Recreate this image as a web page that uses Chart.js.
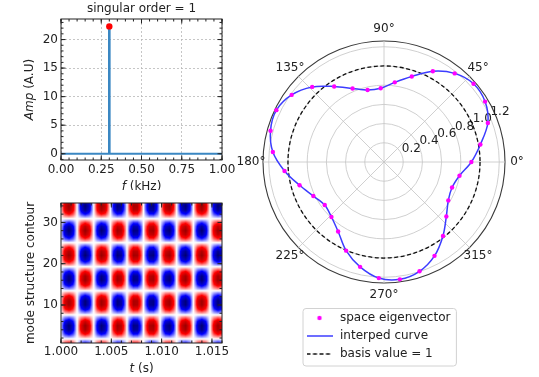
<!DOCTYPE html>
<html lang="en">
<head>
<meta charset="utf-8">
<title>Singular order 1</title>
<script src="https://cdn.jsdelivr.net/npm/chart.js@4.4.1/dist/chart.umd.min.js"></script>
<style>
  body { margin: 0; background: #fff; }
  #wrap { position: relative; width: 539px; height: 377px; overflow: hidden; }
  canvas { position: absolute; }
</style>
</head>
<body>
<div id="wrap">
  <canvas id="spec" width="240" height="190" style="left:0;top:0"></canvas>
  <canvas id="mode" width="240" height="187" style="left:0;top:190px"></canvas>
  <canvas id="polar" width="309" height="377" style="left:230px;top:0"></canvas>
</div>
<script>
// spectrum of the temporal vector (top left)
const specTitle = 'singular order = 1';
const peakFreq = [0.3];   // kHz
const peakAmp = [22.3];
const baseFreq = [0, 1];
const baseAmp = [0, 0];
const freqTicks = [0, 0.25, 0.5, 0.75, 1.0];
const ampTicks = [0, 5, 10, 15, 20];

// mode structure, time x channel (bottom left)
const modeTime = [1.0000, 1.0004, 1.0008, 1.0012, 1.0016, 1.0020, 1.0024, 1.0028, 1.0032, 1.0036,
  1.0040, 1.0044, 1.0048, 1.0052, 1.0056, 1.0060, 1.0064, 1.0068, 1.0072, 1.0076,
  1.0080, 1.0084, 1.0088, 1.0092, 1.0096, 1.0100, 1.0104, 1.0108, 1.0112, 1.0116,
  1.0120, 1.0124, 1.0128, 1.0132, 1.0136, 1.0140, 1.0144, 1.0148, 1.0152, 1.0156, 1.0160];
const timeProfile = [0.10, 0.76, 1.00, 0.69, 0.00, -0.69, -1.00, -0.76, -0.10, 0.62,
  0.99, 0.82, 0.19, -0.54, -0.97, -0.87, -0.29, 0.45, 0.94, 0.91,
  0.38, -0.36, -0.91, -0.95, -0.47, 0.27, 0.86, 0.98, 0.55, -0.18,
  -0.81, -0.99, -0.63, 0.08, 0.75, 1.00, 0.70, 0.02, -0.68, -1.00, -0.77];
const channels = [1, 2, 3, 4, 5, 6, 7, 8, 9, 10, 11, 12, 13, 14, 15, 16, 17, 18,
  19, 20, 21, 22, 23, 24, 25, 26, 27, 28, 29, 30, 31, 32, 33, 34, 35];
const spaceProfile = [0.42, -0.11, -0.61, -0.93, -0.99, -0.77, -0.32, 0.21, 0.68, 0.96,
  0.97, 0.70, 0.23, -0.30, -0.75, -0.98, -0.94, -0.63, -0.14, 0.39,
  0.81, 1.00, 0.90, 0.55, 0.04, -0.48, -0.86, -1.00, -0.85, -0.46,
  0.06, 0.56, 0.91, 0.99, 0.80];
const timeTicks = [1.000, 1.005, 1.010, 1.015];
const chanTicks = [10, 20, 30];

// space eigenvector (right), angles counter-clockwise from 0 deg
const eigAngles = [0, 10.29, 20.57, 30.86, 41.14, 51.43, 61.71, 72.0, 82.29, 92.57,
  102.86, 113.14, 123.43, 133.71, 144.0, 154.29, 164.57, 174.86, 185.14, 195.43,
  205.71, 216.0, 226.29, 236.57, 246.86, 257.14, 267.43, 277.71, 288.0, 298.29,
  308.57, 318.86, 329.14, 339.43, 349.71];
const eigRadius = [0.91, 1.02, 1.155, 1.226, 1.238, 1.18, 1.073, 0.936, 0.837, 0.768,
  0.769, 0.833, 0.942, 1.082, 1.189, 1.244, 1.226, 1.162, 1.04, 0.912,
  0.817, 0.763, 0.792, 0.867, 1.004, 1.12, 1.21, 1.233, 1.197, 1.11,
  0.985, 0.862, 0.78, 0.757, 0.799];
const basisValue = 1;
const rTicks = [0.2, 0.4, 0.6, 0.8, 1.0, 1.2];
const thetaTicks = [0, 45, 90, 135, 180, 225, 270, 315];

const FONT = '"DejaVu Sans"';
const INK = '#222';
const STEM_BLUE = '#3a87c2';
const CURVE_BLUE = '#3c3cff';

Chart.defaults.font.family = FONT;
Chart.defaults.font.size = 12;
Chart.defaults.color = INK;

// box round the plot area + inward ticks on all four sides
const frame = {
  id: 'frame',
  afterDraw(chart, args, opts) {
    const {ctx, chartArea: a, scales} = chart;
    const sx = scales.x, sy = scales.y;
    const minorVals = (s, step) => {
      const out = [];
      for (let v = Math.ceil(s.min / step - 1e-9) * step; v <= s.max + 1e-9; v += step) out.push(v);
      return out;
    };
    ctx.save();
    ctx.strokeStyle = INK;
    ctx.lineWidth = 1;
    const tick = (v, len, horiz) => {
      ctx.beginPath();
      if (horiz) {
        const p = sx.getPixelForValue(v);
        ctx.moveTo(p, a.bottom); ctx.lineTo(p, a.bottom - len);
        ctx.moveTo(p, a.top); ctx.lineTo(p, a.top + len);
      } else {
        const p = sy.getPixelForValue(v);
        ctx.moveTo(a.left, p); ctx.lineTo(a.left + len, p);
        ctx.moveTo(a.right, p); ctx.lineTo(a.right - len, p);
      }
      ctx.stroke();
    };
    minorVals(sx, opts.minorX).forEach(v => tick(v, 2.5, true));
    minorVals(sy, opts.minorY).forEach(v => tick(v, 2.5, false));
    sx.ticks.forEach(t => tick(t.value, 4.5, true));
    sy.ticks.forEach(t => tick(t.value, 4.5, false));
    ctx.strokeRect(a.left, a.top, a.right - a.left, a.bottom - a.top);
    ctx.restore();
  }
};

// axis titles with an italic symbol in front
function drawParts(ctx, parts, cx, cy, rot) {
  const fonts = parts.map(p => p[1] + ' 12px ' + FONT);
  let total = 0;
  const widths = parts.map((p, i) => { ctx.font = fonts[i]; const w = ctx.measureText(p[0]).width; total += w; return w; });
  ctx.save();
  ctx.translate(cx, cy);
  ctx.rotate(rot);
  ctx.textAlign = 'left';
  ctx.textBaseline = 'middle';
  ctx.fillStyle = INK;
  let x = -total / 2;
  parts.forEach((p, i) => { ctx.font = fonts[i]; ctx.fillText(p[0], x, 0); x += widths[i]; });
  ctx.restore();
}
const axisTitles = {
  id: 'axisTitles',
  afterDraw(chart, args, opts) {
    const {ctx, chartArea: a} = chart;
    drawParts(ctx, opts.x, (a.left + a.right) / 2, a.bottom + opts.xGap, 0);
    drawParts(ctx, opts.y, a.left - opts.yGap, (a.top + a.bottom) / 2, -Math.PI / 2);
  }
};

// seismic colour map, v in [-1, 1]
function seismic(v) {
  const u = Math.max(0, Math.min(1, (v + 1) / 2));
  const stops = [[0, 0, 0, 0.3], [0.25, 0, 0, 1], [0.5, 1, 1, 1], [0.75, 1, 0, 0], [1, 0.5, 0, 0]];
  let k = 0;
  while (k < stops.length - 2 && u > stops[k + 1][0]) k++;
  const s0 = stops[k], s1 = stops[k + 1];
  const f = (u - s0[0]) / (s1[0] - s0[0]);
  return [1, 2, 3].map(c => Math.round(255 * (s0[c] + f * (s1[c] - s0[c]))));
}

// linear lookup between the sampled values (gouraud-like shading)
function lookup(xs, ys, v) {
  const n = xs.length;
  if (v <= xs[0]) return ys[0];
  if (v >= xs[n - 1]) return ys[n - 1];
  let k = 0;
  while (xs[k + 1] < v) k++;
  const f = (v - xs[k]) / (xs[k + 1] - xs[k]);
  return ys[k] + f * (ys[k + 1] - ys[k]);
}

const heatmap = {
  id: 'heatmap',
  beforeDatasetsDraw(chart, args, opts) {
    const {ctx, chartArea: a, scales: {x, y}} = chart;
    const left = Math.round(a.left), top = Math.round(a.top);
    const w = Math.round(a.right) - left, h = Math.round(a.bottom) - top;
    const off = document.createElement('canvas');
    off.width = w; off.height = h;
    const octx = off.getContext('2d');
    const img = octx.createImageData(w, h);
    const colVals = [];
    for (let i = 0; i < w; i++) colVals.push(lookup(modeTime, timeProfile, x.getValueForPixel(left + i + 0.5)));
    for (let j = 0; j < h; j++) {
      const rv = lookup(channels, spaceProfile, y.getValueForPixel(top + j + 0.5));
      for (let i = 0; i < w; i++) {
        const c = seismic(colVals[i] * rv / opts.vmax);
        const p = (j * w + i) * 4;
        img.data[p] = c[0]; img.data[p + 1] = c[1]; img.data[p + 2] = c[2]; img.data[p + 3] = 255;
      }
    }
    octx.putImageData(img, 0, 0);
    ctx.drawImage(off, left, top);
  }
};

const setTicks = vals => s => { s.ticks = vals.map(v => ({value: v})); };

// ---------- spectrum ----------
const peakPts = peakFreq.map((f, i) => ({x: f, y: peakAmp[i]}));
new Chart(document.getElementById('spec'), {
  type: 'scatter',
  data: {
    datasets: [
      { type: 'scatter', data: peakPts, backgroundColor: '#ff0000', borderWidth: 0, pointRadius: 3.2, order: 0 },
      { type: 'bar', data: peakPts, backgroundColor: STEM_BLUE, barThickness: 2, order: 1 },
      { type: 'line', data: baseFreq.map((f, i) => ({x: f, y: baseAmp[i]})), borderColor: STEM_BLUE,
        borderWidth: 2, pointRadius: 0, order: 2 }
    ]
  },
  options: {
    responsive: false, animation: false, devicePixelRatio: 1,
    layout: { padding: { left: 0, right: 18, top: 0, bottom: 0 } },
    plugins: {
      legend: { display: false }, tooltip: { enabled: false },
      title: { display: true, fullSize: false, text: specTitle, color: INK, font: { size: 12, weight: 'normal' },
        padding: { top: 2, bottom: 2.6 } },
      axisTitles: { x: [['f', 'italic'], [' (kHz)', 'normal']], xGap: 27,
        y: [['Amp', 'italic'], [' (A.U)', 'normal']], yGap: 31 },
      frame: { minorX: 0.05, minorY: 1 }
    },
    scales: {
      x: {
        type: 'linear', min: 0, max: 1, offset: false,
        afterBuildTicks: setTicks(freqTicks),
        afterFit: s => { s.height = 30; },
        ticks: { callback: v => v.toFixed(2), padding: 3, maxRotation: 0, autoSkip: false },
        grid: { color: '#b8b8b8', lineWidth: 0.8, drawTicks: false, offset: false },
        border: { display: false, dash: [2, 2] }
      },
      y: {
        type: 'linear', min: -1.1, max: 23.6,
        afterBuildTicks: setTicks(ampTicks),
        afterFit: s => { s.width = 61; },
        ticks: { padding: 3 },
        grid: { color: '#b8b8b8', lineWidth: 0.8, drawTicks: false },
        border: { display: false, dash: [2, 2] }
      }
    }
  },
  plugins: [frame, axisTitles]
});

// ---------- mode structure ----------
new Chart(document.getElementById('mode'), {
  type: 'scatter',
  data: { datasets: [] },
  options: {
    responsive: false, animation: false, devicePixelRatio: 1,
    layout: { padding: { left: 0, right: 18, top: 13, bottom: 0 } },
    plugins: {
      legend: { display: false }, tooltip: { enabled: false },
      heatmap: { vmax: 1.1 },
      axisTitles: { x: [['t', 'italic'], [' (s)', 'normal']], xGap: 25.5,
        y: [['mode structure contour', 'normal']], yGap: 30 },
      frame: { minorX: 0.001, minorY: 2 }
    },
    scales: {
      x: {
        type: 'linear', min: 1.0, max: 1.016,
        afterBuildTicks: setTicks(timeTicks),
        afterFit: s => { s.height = 34; },
        ticks: { callback: v => v.toFixed(3), padding: 2, maxRotation: 0, autoSkip: false },
        grid: { display: false, drawTicks: false },
        border: { display: false }
      },
      y: {
        type: 'linear', min: 0.8, max: 34.7,
        afterBuildTicks: setTicks(chanTicks),
        afterFit: s => { s.width = 61; },
        ticks: { padding: 3 },
        grid: { display: false, drawTicks: false },
        border: { display: false }
      }
    }
  },
  plugins: [heatmap, frame, axisTitles]
});

// ---------- polar eigenvector ----------
// radar runs clockwise from its start angle, so walk the data backwards from 0 deg
const toRadar = arr => arr.map((_, i) => arr[(arr.length - i) % arr.length]);

function makeIcon(draw) {
  const c = document.createElement('canvas');
  c.width = 26; c.height = 10;
  draw(c.getContext('2d'));
  return c;
}
const legendIcons = [
  makeIcon(g => { g.fillStyle = '#ff00ff'; g.beginPath(); g.arc(13, 5, 2.2, 0, Math.PI * 2); g.fill(); }),
  makeIcon(g => { g.strokeStyle = CURVE_BLUE; g.lineWidth = 1.5; g.beginPath(); g.moveTo(0, 5); g.lineTo(26, 5); g.stroke(); }),
  makeIcon(g => { g.strokeStyle = '#111'; g.lineWidth = 1.3; g.setLineDash([4, 2.5]); g.beginPath(); g.moveTo(0, 5); g.lineTo(26, 5); g.stroke(); })
];

const polarDeco = {
  id: 'polarDeco',
  beforeDatasetsDraw(chart) {
    const s = chart.scales.r, ctx = chart.ctx;
    const cx = s.xCenter, cy = s.yCenter, R = s.drawingArea;
    ctx.save();
    ctx.strokeStyle = '#c4c4c4';
    ctx.lineWidth = 0.8;
    thetaTicks.forEach(deg => {
      const t = deg * Math.PI / 180;
      ctx.beginPath();
      ctx.moveTo(cx, cy);
      ctx.lineTo(cx + R * Math.cos(t), cy - R * Math.sin(t));
      ctx.stroke();
    });
    ctx.fillStyle = INK;
    ctx.font = '12px ' + FONT;
    ctx.textAlign = 'center';
    ctx.textBaseline = 'middle';
    thetaTicks.forEach(deg => {
      const t = deg * Math.PI / 180;
      ctx.fillText(deg + '°', cx + (R + 12) * Math.cos(t), cy - (R + 12) * Math.sin(t));
    });
    ctx.textAlign = 'left';
    ctx.textBaseline = 'bottom';
    const ra = 22.5 * Math.PI / 180;
    rTicks.forEach(v => {
      const d = s.getDistanceFromCenterForValue(v);
      ctx.fillText(v.toFixed(1), cx + d * Math.cos(ra), cy - d * Math.sin(ra));
    });
    ctx.restore();
  }
};

const legendBox = {
  id: 'legendBox',
  afterLayout(chart, args, opts) {
    const lg = chart.legend;
    const dx = opts.left - lg.left, dy = opts.top - lg.top;
    lg.left += dx; lg.right += dx; lg.top += dy; lg.bottom += dy;
  },
  beforeDraw(chart) {
    const hb = chart.legend.legendHitBoxes, ctx = chart.ctx;
    if (!hb || !hb.length) return;
    const l = Math.min(...hb.map(h => h.left)) - 2;
    const t = Math.min(...hb.map(h => h.top)) - 3.5;
    const r = Math.max(...hb.map(h => h.left + h.width)) + 6;
    const b = Math.max(...hb.map(h => h.top + h.height)) + 6;
    ctx.save();
    ctx.beginPath();
    ctx.roundRect(l, t, r - l, b - t, 3);
    ctx.fillStyle = 'rgba(255,255,255,0.85)';
    ctx.fill();
    ctx.strokeStyle = '#d2d2d2';
    ctx.lineWidth = 1;
    ctx.stroke();
    ctx.restore();
  }
};

new Chart(document.getElementById('polar'), {
  type: 'radar',
  data: {
    labels: toRadar(eigAngles).map(a => a + '°'),
    datasets: [
      { label: 'space eigenvector', data: toRadar(eigRadius), showLine: false, fill: false,
        pointRadius: 2.2, pointBackgroundColor: '#ff00ff', pointBorderWidth: 0, order: 0 },
      { label: 'interped curve', data: toRadar(eigRadius), borderColor: CURVE_BLUE, borderWidth: 1.5,
        pointRadius: 0, tension: 0.33, fill: false, order: 1 },
      { label: 'basis value = ' + basisValue, data: eigAngles.map(() => basisValue), borderColor: '#111',
        borderWidth: 1.3, borderDash: [4, 2.5], pointRadius: 0, tension: 0.33, fill: false, order: 2 }
    ]
  },
  options: {
    responsive: false, animation: false, devicePixelRatio: 1,
    layout: { padding: { left: 33, right: 34, top: 41, bottom: 30 } },
    scales: {
      r: {
        min: 0, max: 1.26, startAngle: 90,
        afterBuildTicks: setTicks([0, ...rTicks, 1.26]),
        angleLines: { display: false },
        pointLabels: { display: false },
        ticks: { display: false },
        grid: {
          circular: true,
          color: c => (c.tick && c.tick.value > 1.25 ? '#3a3a3a' : '#c4c4c4'),
          lineWidth: c => (c.tick && c.tick.value > 1.25 ? 1.1 : 0.8)
        }
      }
    },
    plugins: {
      tooltip: { enabled: false },
      legendBox: { left: 69, top: 306 },
      legend: {
        position: 'bottom', align: 'start',
        labels: {
          usePointStyle: true, pointStyleWidth: 29, padding: 6, color: INK, font: { size: 12 },
          generateLabels: chart => Chart.defaults.plugins.legend.labels.generateLabels(chart)
            .map((it, i) => Object.assign(it, { pointStyle: legendIcons[i] }))
        }
      }
    }
  },
  plugins: [polarDeco, legendBox]
});
</script>
</body>
</html>
